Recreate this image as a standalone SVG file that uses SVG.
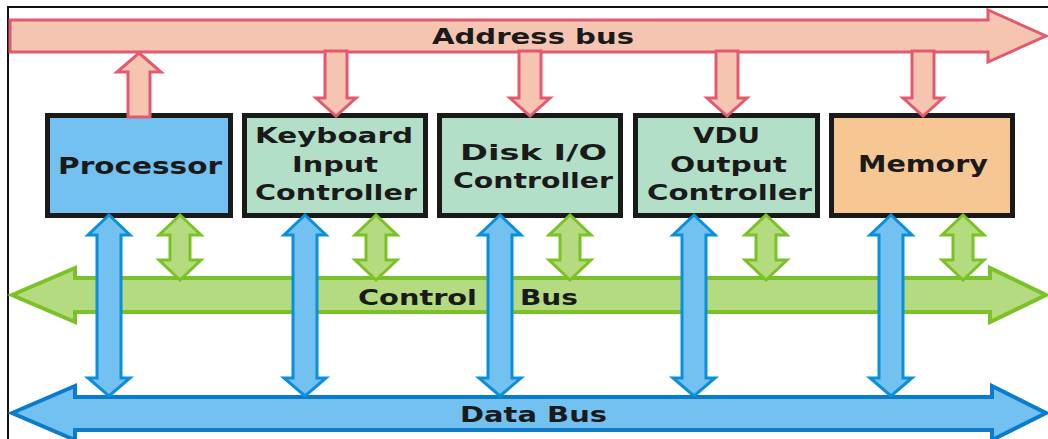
<svg xmlns="http://www.w3.org/2000/svg" width="1048" height="439" viewBox="0 0 1048 439">
<style>
.frame{stroke:#111;stroke-width:2;fill:none}
.box{stroke:#1a1a1a;stroke-width:5}
.proc{fill:#73c1f1}
.ctrl{fill:#b3dfc8}
.mem{fill:#f6c793}
.lbl{font-family:"DejaVu Sans","Verdana",sans-serif;font-weight:bold;fill:#1a1a1a}
.addr{fill:#f5c5b2;stroke:#e35a6f;stroke-width:3;stroke-linejoin:miter}
.cbus{fill:#b4db7f;stroke:#7bc227;stroke-width:4}
.dbus{fill:#73c1f1;stroke:#0a7ccb;stroke-width:4}
.blue{fill:#73c1f1;stroke:#0b8fdb;stroke-width:3}
.green{fill:#b4db7f;stroke:#7bc227;stroke-width:3}
</style>
<defs>
<path id="downArrow" d="M-11,51 L11,51 L11,98 L20,98 L0,116 L-20,98 L-11,98 Z"/>
<path id="blueArrow" d="M0,215 L21,235 L12,235 L12,378 L21,378 L0,396 L-21,378 L-12,378 L-12,235 L-21,235 Z"/>
<path id="greenArrow" d="M0,215 L21,235 L10,235 L10,260 L21,260 L0,280 L-21,260 L-10,260 L-10,235 L-21,235 Z"/>
</defs>
<rect width="1048" height="439" fill="#fff"/>
<path class="frame" d="M8,440 L8,7 L1048,7"/>

<g id="address-bus">
<polygon class="addr" points="10,20 988,20 988,10 1046,36 988,62 988,52 10,52"/>
<text class="lbl" x="432" y="44" font-size="22" textLength="202" lengthAdjust="spacingAndGlyphs">Address bus</text>
</g>

<g id="control-bus">
<polygon class="cbus" points="12,295 75,268 75,278 990,278 990,268 1046,295 990,322 990,312 75,312 75,322"/>
<text class="lbl" y="305" font-size="22"><tspan x="358" textLength="119" lengthAdjust="spacingAndGlyphs">Control</tspan> <tspan x="520" textLength="58" lengthAdjust="spacingAndGlyphs">Bus</tspan></text>
</g>

<g id="data-bus">
<polygon class="dbus" points="12,413 75,386 75,397 992,397 992,386 1046,413 992,440 992,430 75,430 75,440"/>
<text class="lbl" x="460" y="422" font-size="22" textLength="147" lengthAdjust="spacingAndGlyphs">Data Bus</text>
</g>

<g id="processor">
<rect class="box proc" x="47.5" y="115.5" width="183" height="100"/>
<text class="lbl" x="58" y="174" font-size="23" textLength="164" lengthAdjust="spacingAndGlyphs">Processor</text>
</g>

<g id="keyboard-input-controller">
<rect class="box ctrl" x="244.5" y="115.5" width="181" height="100"/>
<text class="lbl" x="255" y="143" font-size="21" textLength="158" lengthAdjust="spacingAndGlyphs">Keyboard</text>
<text class="lbl" x="292" y="172" font-size="21" textLength="86" lengthAdjust="spacingAndGlyphs">Input</text>
<text class="lbl" x="255" y="200" font-size="21" textLength="162" lengthAdjust="spacingAndGlyphs">Controller</text>
</g>

<g id="disk-io-controller">
<rect class="box ctrl" x="439.5" y="115.5" width="181" height="100"/>
<text class="lbl" x="460" y="160" font-size="22" textLength="147" lengthAdjust="spacingAndGlyphs">Disk I/O</text>
<text class="lbl" x="453" y="188" font-size="22" textLength="160" lengthAdjust="spacingAndGlyphs">Controller</text>
</g>

<g id="vdu-output-controller">
<rect class="box ctrl" x="635.5" y="115.5" width="182" height="100"/>
<text class="lbl" x="693" y="143" font-size="21" textLength="67" lengthAdjust="spacingAndGlyphs">VDU</text>
<text class="lbl" x="670" y="172" font-size="21" textLength="117" lengthAdjust="spacingAndGlyphs">Output</text>
<text class="lbl" x="647" y="200" font-size="21" textLength="165" lengthAdjust="spacingAndGlyphs">Controller</text>
</g>

<g id="memory">
<rect class="box mem" x="831.5" y="115.5" width="181" height="100"/>
<text class="lbl" x="858" y="172" font-size="23" textLength="130" lengthAdjust="spacingAndGlyphs">Memory</text>
</g>

<g id="connectors">
<polygon class="addr" points="139,53 161,72 150,72 150,117 128,117 128,72 117,72"/>
<use href="#downArrow" class="addr" x="336"/>
<use href="#downArrow" class="addr" x="530"/>
<use href="#downArrow" class="addr" x="727"/>
<use href="#downArrow" class="addr" x="923"/>
<use href="#blueArrow" class="blue" x="109"/>
<use href="#blueArrow" class="blue" x="305"/>
<use href="#blueArrow" class="blue" x="500"/>
<use href="#blueArrow" class="blue" x="694"/>
<use href="#blueArrow" class="blue" x="891"/>
<use href="#greenArrow" class="green" x="180"/>
<use href="#greenArrow" class="green" x="376"/>
<use href="#greenArrow" class="green" x="570"/>
<use href="#greenArrow" class="green" x="766"/>
<use href="#greenArrow" class="green" x="963"/>
</g>
</svg>
